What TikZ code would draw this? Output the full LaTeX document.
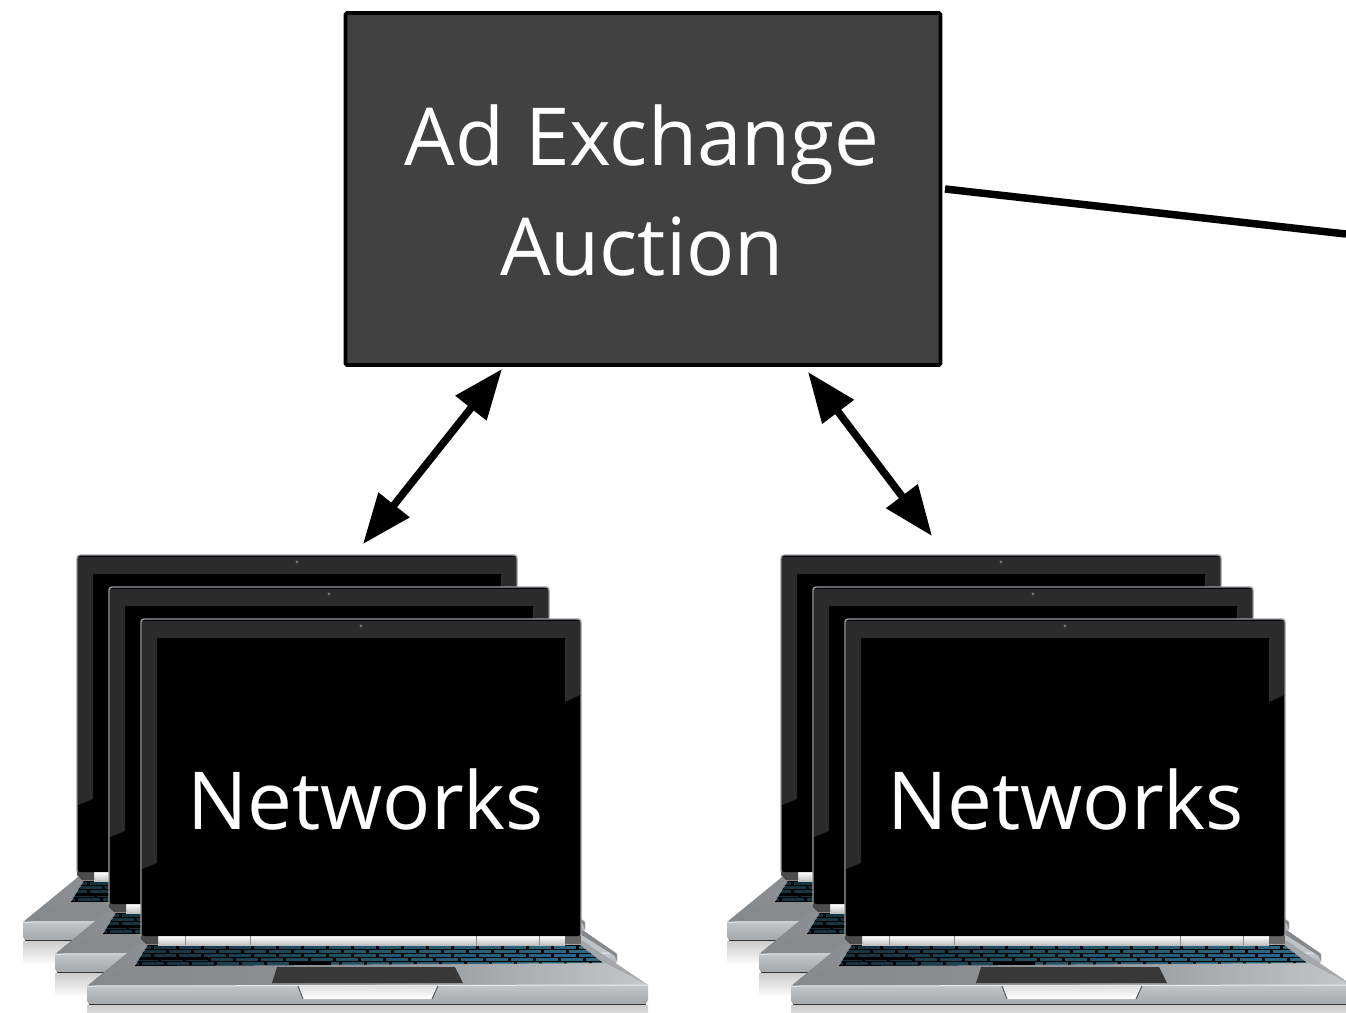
\documentclass[tikz,border=0pt]{standalone}
\usepackage{fontspec}
\setmainfont{Open Sans}
\usetikzlibrary{arrows.meta}
\definecolor{boxfill}{HTML}{414141}
\definecolor{bezel}{HTML}{2B2B2B}
\definecolor{rim}{HTML}{98A1A6}
\definecolor{keyblue}{HTML}{2F6A85}
\definecolor{keydark}{HTML}{14303E}
\definecolor{metaldark}{HTML}{85898B}
\definecolor{metalmid}{HTML}{A5A8AA}
\definecolor{metallight}{HTML}{C4C7C9}
\tikzset{
  x=1pt,y=-1pt,
  box/.style={draw=black,line width=3.6pt,fill=boxfill,rounded corners=1.5pt,minimum width=595pt,minimum height=352pt,inner sep=0pt},
  label/.style={text=white,font=\fontsize{80}{110}\selectfont,align=center,inner sep=0pt},
  link/.style={line width=7.5pt,draw=black},
  both/.style={link,{Triangle[length=50pt,width=38pt]}-{Triangle[length=50pt,width=38pt]}},
  pics/laptop/.style={code={
    % reflection below the base
    \shade[top color=black!20,bottom color=white] (-54,386) rectangle (507,410);
    % top surface of base
    \shade[left color=metaldark,right color=metalmid,middle color=metalmid]
      (1,322) -- (442,322) -- (507,366) -- (-54,367) -- cycle;
    \shade[left color=metaldark,right color=metallight,middle color=metaldark!70!metalmid]
      (-8,345) -- (462,343) -- (507,366) -- (-54,367) -- cycle;
    % front face
    \shade[top color=metallight,middle color=metaldark,bottom color=metalmid]
      (-54,367) -- (507,366) -- (507,381) -- (505,385) -- (-52,385) -- (-54,382) -- cycle;
    \draw[white!92!black,line width=1pt] (-54,367) -- (507,366);
    \fill[black!80] (-52,384.5) -- (505,384.5) -- (505,386) -- (-52,386) -- cycle;
    % keyboard
    \begin{scope}
      \clip (7,326) -- (439,326) -- (462,344) -- (-6,347) -- cycle;
      \shade[left color=keydark,right color=keyblue,middle color=keyblue!80!black] (-8,325) rectangle (464,348);
      \foreach \yy in {326,330,334,338,342,346}{
        \fill[black] (-8,\yy) rectangle (464,\yy+1.2);
      }
      \foreach \r/\yy/\st in {0/326/10,1/330/2,2/334/14,3/338/-2,4/342/6}{
        \foreach \k in {0,...,18}{
          \fill[black] ({\st+\k*25-(\r*2)},\yy) rectangle +(2.5,4);
        }
      }
      \fill[black] (-8,338) rectangle (70,341);
      \fill[black] (150,342) rectangle (190,345.5);
    \end{scope}
    % trackpad and thumb notch
    \fill[black!78] (136,348) -- (314,348) -- (322,364) -- (131,364) -- cycle;
    \shade[top color=black!12,bottom color=white] (157,367) -- (297,367) -- (291,380) -- (162,380) -- cycle;
    \draw[black!65,line width=1pt] (157,367) -- (162,380) (297,367) -- (291,380);
    % hinge
    \shade[top color=white,bottom color=black!25] (17,317) rectangle (424,326);
    \fill[black!70] (0,316) -- (17,316) -- (17,325) -- (5,325) -- (0,320) -- cycle;
    \fill[black!60] (424,316) -- (440,316) -- (440,325) -- (424,325) -- cycle;
    \draw[black!45,line width=.6pt] (44,317) -- (44,326) (109,317) -- (109,326) (335,317) -- (335,326) (398,317) -- (398,326);
    \fill[metaldark] (441,312) -- (443,312) -- (476,335) -- (476,344) -- (474,337) -- (441,316) -- cycle;
    % lid
    \fill[black,rounded corners=3pt] (0,317) -- (0,0) -- (440,0) -- (440,317) -- cycle;
    \fill[bezel]
      (1,2) -- (439,2) -- (439,76) -- (424,83) -- (424,19) -- (16,19) -- (16,244) -- (1,250) -- cycle;
    \draw[rim,line width=1.4pt,rounded corners=3pt] (0,317) -- (0,0) -- (440,0) -- (440,317);
    \fill[black!55] (220,7) circle (1.6);
  }}
}
\begin{document}
\begin{tikzpicture}
\useasboundingbox (0,0) rectangle (1346,1012);
\fill[white] (0,0) rectangle (1346,1012);
\node[box] (auction) at (643,189) {};
\node[label] (auctiontext) at (642,190.5) {Ad Exchange\\Auction};

\foreach \g in {0,704}{
  \foreach \o in {0,32,64}{
    \pic at ({77+\g+\o},{555+\o}) {laptop};
  }
}
\node[label] (netleft) at (365.5,799.5) {Networks};
\node[label] (netright) at (1065.5,799.5) {Networks};

\coordinate (rightedge) at (1346,234);
\coordinate (auctionout) at (945,189);
\draw[link] (auctionout) -- (rightedge);
\coordinate (a1) at (502,369);
\coordinate (b1) at (363,544);
\coordinate (a2) at (808,372);
\coordinate (b2) at (932,536);
\draw[both] (a1) -- (b1);
\draw[both] (a2) -- (b2);
\end{tikzpicture}
\end{document}
